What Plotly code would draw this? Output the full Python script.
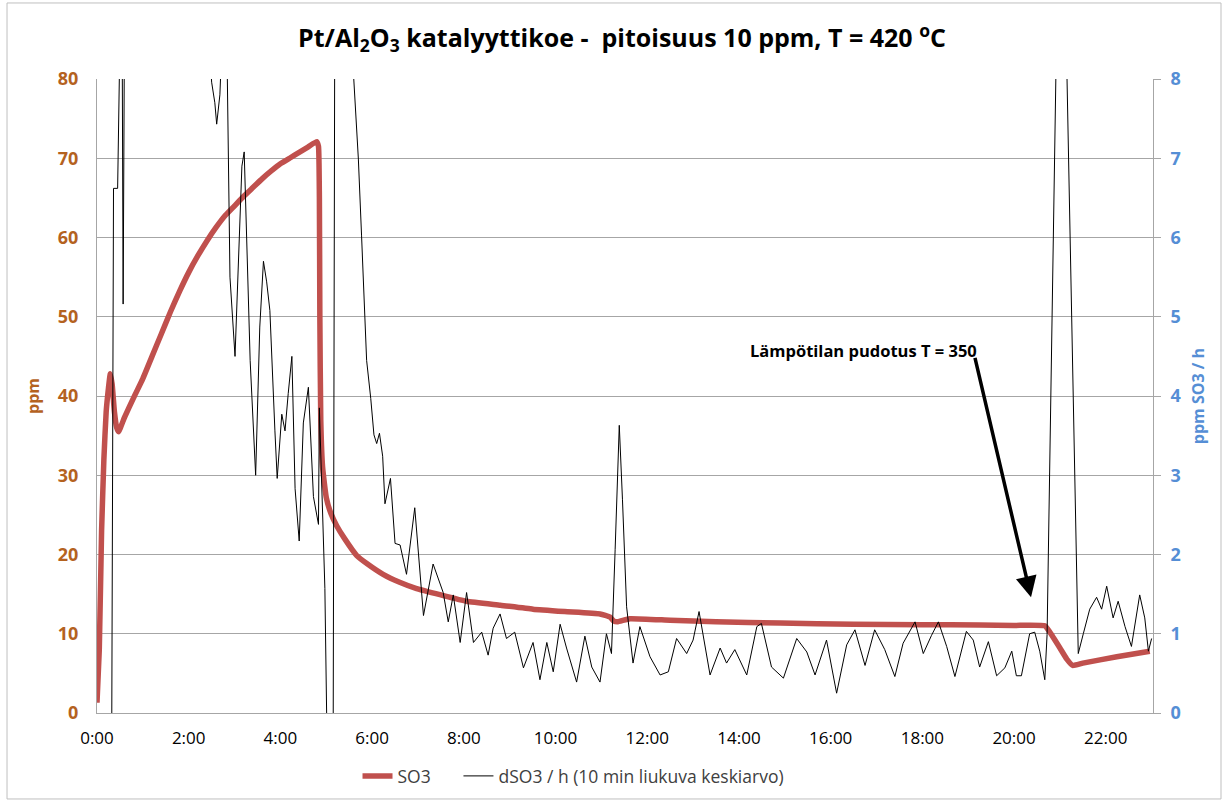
import plotly.graph_objects as go

# ---------------- data ----------------
# SO3 concentration (left axis, ppm), time in hours
so3_time = [0.00, 0.05, 0.10, 0.15, 0.20, 0.25, 0.29, 0.33, 0.38, 0.43, 0.47, 0.60, 0.80,
            1.00, 1.20, 1.40, 1.60, 1.80, 2.00, 2.20, 2.40, 2.60, 2.80, 3.00, 3.20, 3.40,
            3.60, 3.80, 4.00, 4.20, 4.40, 4.60, 4.79, 4.83, 4.85, 4.86, 4.88, 4.92, 5.00,
            5.10, 5.23, 5.40, 5.66, 5.90, 6.24, 6.60, 6.97, 7.50, 8.06, 8.80, 9.51, 10.20,
            10.97, 11.19, 11.27, 11.35, 11.62, 12.50, 13.50, 14.90, 16.50, 18.00, 19.25,
            20.00, 20.67, 20.78, 21.00, 21.15, 21.28, 21.50, 22.24, 22.96]
so3_ppm = [1.3, 8.0, 23.0, 32.0, 38.0, 41.0, 42.8, 41.5, 38.0, 36.0, 35.5, 37.3, 39.8,
           42.2, 45.0, 47.8, 50.6, 53.2, 55.6, 57.7, 59.6, 61.3, 62.8, 64.0, 65.2, 66.3,
           67.4, 68.4, 69.3, 70.0, 70.7, 71.4, 72.1, 71.5, 65.0, 50.0, 37.0, 31.0, 27.2,
           25.2, 23.6, 22.0, 19.9, 18.8, 17.5, 16.5, 15.7, 14.9, 14.1, 13.6, 13.1, 12.8,
           12.5, 12.1, 11.6, 11.5, 11.9, 11.7, 11.5, 11.35, 11.2, 11.15, 11.1,
           11.05, 11.0, 10.2, 8.2, 6.8, 6.0, 6.3, 7.1, 7.8]

# dSO3/h, 10 min moving average (right axis, ppm SO3 / h)
dso3_time = [0.32, 0.36, 0.45, 0.51, 0.54, 0.57, 0.61, 1.50, 2.40, 2.50, 2.57, 2.61, 2.68, 2.76,
             2.82, 2.90, 3.01, 3.16, 3.21, 3.34, 3.46, 3.55, 3.63, 3.70, 3.77, 3.88, 3.93, 4.03,
             4.10, 4.17, 4.25, 4.32, 4.41, 4.50, 4.61, 4.72, 4.83, 4.85, 4.90, 4.97, 5.02, 5.15,
             5.19, 5.40, 5.59, 5.70, 5.77, 5.88, 5.97, 6.04, 6.10, 6.16, 6.23, 6.28, 6.40, 6.50,
             6.61, 6.75, 6.93, 7.12, 7.33, 7.55, 7.66, 7.77, 7.92, 8.06, 8.21, 8.39, 8.53, 8.64,
             8.79, 8.93, 9.11, 9.30, 9.51, 9.66, 9.81, 9.95, 10.10, 10.24, 10.46, 10.64, 10.79,
             10.97, 11.11, 11.22, 11.30, 11.39, 11.46, 11.55, 11.69, 11.84, 12.06, 12.28, 12.46,
             12.64, 12.86, 13.00, 13.13, 13.37, 13.59, 13.73, 13.91, 14.17, 14.39, 14.49, 14.71,
             14.97, 15.26, 15.48, 15.66, 15.91, 16.13, 16.35, 16.53, 16.75, 16.96, 17.18, 17.40,
             17.58, 17.84, 18.02, 18.20, 18.35, 18.53, 18.71, 18.96, 19.11, 19.25, 19.44, 19.62,
             19.80, 19.95, 20.05, 20.16, 20.34, 20.45, 20.56, 20.67, 20.72, 21.02, 21.40, 21.51,
             21.65, 21.80, 21.91, 22.02, 22.16, 22.27, 22.42, 22.56, 22.74, 22.85, 22.93, 23.00]
dso3_rate = [-0.5, 6.62, 6.62, 10.0, 10.0, 5.16, 10.0, 10.0, 9.0, 7.96, 7.70, 7.43, 7.80, 9.0,
             9.0, 5.50, 4.50, 6.90, 7.08, 4.45, 3.00, 4.87, 5.70, 5.44, 5.08, 3.56, 2.96, 3.77,
             3.56, 4.03, 4.50, 2.83, 2.17, 3.66, 4.11, 2.73, 2.38, 3.85, 2.88, 1.57, -0.5, -0.5,
             10.0, 10.0, 8.10, 6.99, 6.02, 4.45, 3.97, 3.51, 3.40, 3.53, 3.24, 2.64, 2.96, 2.14,
             2.12, 1.75, 2.59, 1.23, 1.88, 1.52, 1.15, 1.49, 0.89, 1.52, 0.89, 1.02, 0.73, 1.07,
             1.25, 0.94, 1.02, 0.57, 0.89, 0.42, 0.89, 0.52, 1.12, 0.82, 0.39, 0.97, 0.58,
             0.39, 1.00, 0.75, 2.06, 3.63, 2.69, 1.34, 0.63, 1.09, 0.71, 0.48, 0.52,
             0.94, 0.75, 0.92, 1.28, 0.48, 0.82, 0.63, 0.80, 0.48, 1.09, 1.13, 0.58,
             0.44, 0.94, 0.77, 0.48, 0.92, 0.25, 0.86, 1.05, 0.60, 1.05, 0.80, 0.46,
             0.88, 1.15, 0.75, 0.98, 1.15, 0.84, 0.46, 1.03, 0.92, 0.58, 0.90, 0.47,
             0.57, 0.78, 0.47, 0.47, 1.00, 1.02, 0.78, 0.42, 0.99, 12.0, 0.75, 1.00,
             1.31, 1.46, 1.31, 1.60, 1.20, 1.41, 1.09, 0.84, 1.49, 1.20, 0.78, 0.94]

tick_hours = [0, 2, 4, 6, 8, 10, 12, 14, 16, 18, 20, 22]
tick_labels = ["0:00", "2:00", "4:00", "6:00", "8:00", "10:00", "12:00", "14:00",
               "16:00", "18:00", "20:00", "22:00"]

series_names = ["SO3", "dSO3 / h (10 min liukuva keskiarvo)"]

# annotation: temperature drop (text position, arrow tail, arrow tip)
note_text = "Lämpötilan pudotus T = 350"
note_pos = (16.72, 45.8)
arrow_tail = (19.14, 45.0)
arrow_tip = (20.37, 14.6)

# ---------------- styling ----------------
FONT = "Open Sans"
LEFT_COL = "#B4621F"
RIGHT_COL = "#558ED5"
RED = "#C0504D"
GRID = "#A6A6A6"

fig = go.Figure()
fig.add_trace(go.Scatter(
    x=so3_time, y=so3_ppm, mode="lines",
    name=series_names[0] + "&nbsp;&nbsp;&nbsp;&nbsp;&nbsp;",
    line=dict(color=RED, width=5.5, shape="spline", smoothing=0.4),
    yaxis="y"))
fig.add_trace(go.Scatter(
    x=dso3_time, y=dso3_rate, mode="lines", name=series_names[1],
    line=dict(color="#000000", width=1),
    yaxis="y2"))

fig.update_layout(
    width=1228, height=802,
    margin=dict(l=97, r=75, t=79, b=89, autoexpand=False),
    paper_bgcolor="white", plot_bgcolor="white",
    font=dict(family=FONT, color="#404040"),
    title=dict(
        text="<b>Pt/Al<sub>2</sub>O<sub>3</sub> katalyyttikoe -  pitoisuus 10 ppm, T = 420 <sup>o</sup>C</b>",
        x=0.5065, xanchor="center", y=0.952, yanchor="middle",
        font=dict(family=FONT, size=25, color="#000000")),
    xaxis=dict(
        range=[0, 23.03], tickmode="array", tickvals=tick_hours, ticktext=tick_labels,
        showgrid=False, zeroline=False, showline=True, linecolor=GRID, linewidth=1,
        ticks="", ticklabelstandoff=10,
        tickfont=dict(family=FONT, size=17, color="#000000")),
    yaxis=dict(
        range=[0, 80], dtick=10, showgrid=True, gridcolor=GRID, gridwidth=1,
        zeroline=False, showline=True, linecolor=GRID, linewidth=1, ticks="",
        ticklabelstandoff=14,
        tickfont=dict(family=FONT, size=18, color=LEFT_COL, weight="bold"),
        title=dict(text="<b>ppm</b>", standoff=14,
                   font=dict(family=FONT, size=16, color=LEFT_COL))),
    yaxis2=dict(
        range=[0, 8], dtick=1, overlaying="y", side="right", showgrid=False,
        zeroline=False, showline=True, linecolor=GRID, linewidth=1,
        ticks="outside", ticklen=7, tickcolor=GRID,
        ticklabelstandoff=6,
        tickfont=dict(family=FONT, size=18, color=RIGHT_COL, weight="bold"),
        title=dict(text="<b>ppm SO3 / h</b>", standoff=12,
                   font=dict(family=FONT, size=16, color=RIGHT_COL))),
    legend=dict(
        orientation="h", x=0.2467, xanchor="left",
        y=-0.0994, yanchor="middle",
        font=dict(family=FONT, size=17.5, color="#404040"),
        itemwidth=30, bgcolor="rgba(0,0,0,0)"),
    showlegend=True,
)

fig.add_annotation(
    x=note_pos[0], y=note_pos[1], xref="x", yref="y", text="<b>" + note_text + "</b>",
    showarrow=False, font=dict(family=FONT, size=16.5, color="#000000"))
fig.add_annotation(
    x=arrow_tip[0], y=arrow_tip[1], xref="x", yref="y",
    ax=arrow_tail[0], ay=arrow_tail[1], axref="x", ayref="y",
    text="", showarrow=True, arrowhead=2, arrowsize=1.2, arrowwidth=3.5,
    arrowcolor="#000000")

# outer chart border
fig.add_shape(type="rect", xref="paper", yref="paper",
              x0=-0.0852, x1=1.0644, y0=-0.1356, y1=1.1199,
              line=dict(color="#BFBFBF", width=1), fillcolor="rgba(0,0,0,0)", layer="below")

fig.write_html("out.html")
